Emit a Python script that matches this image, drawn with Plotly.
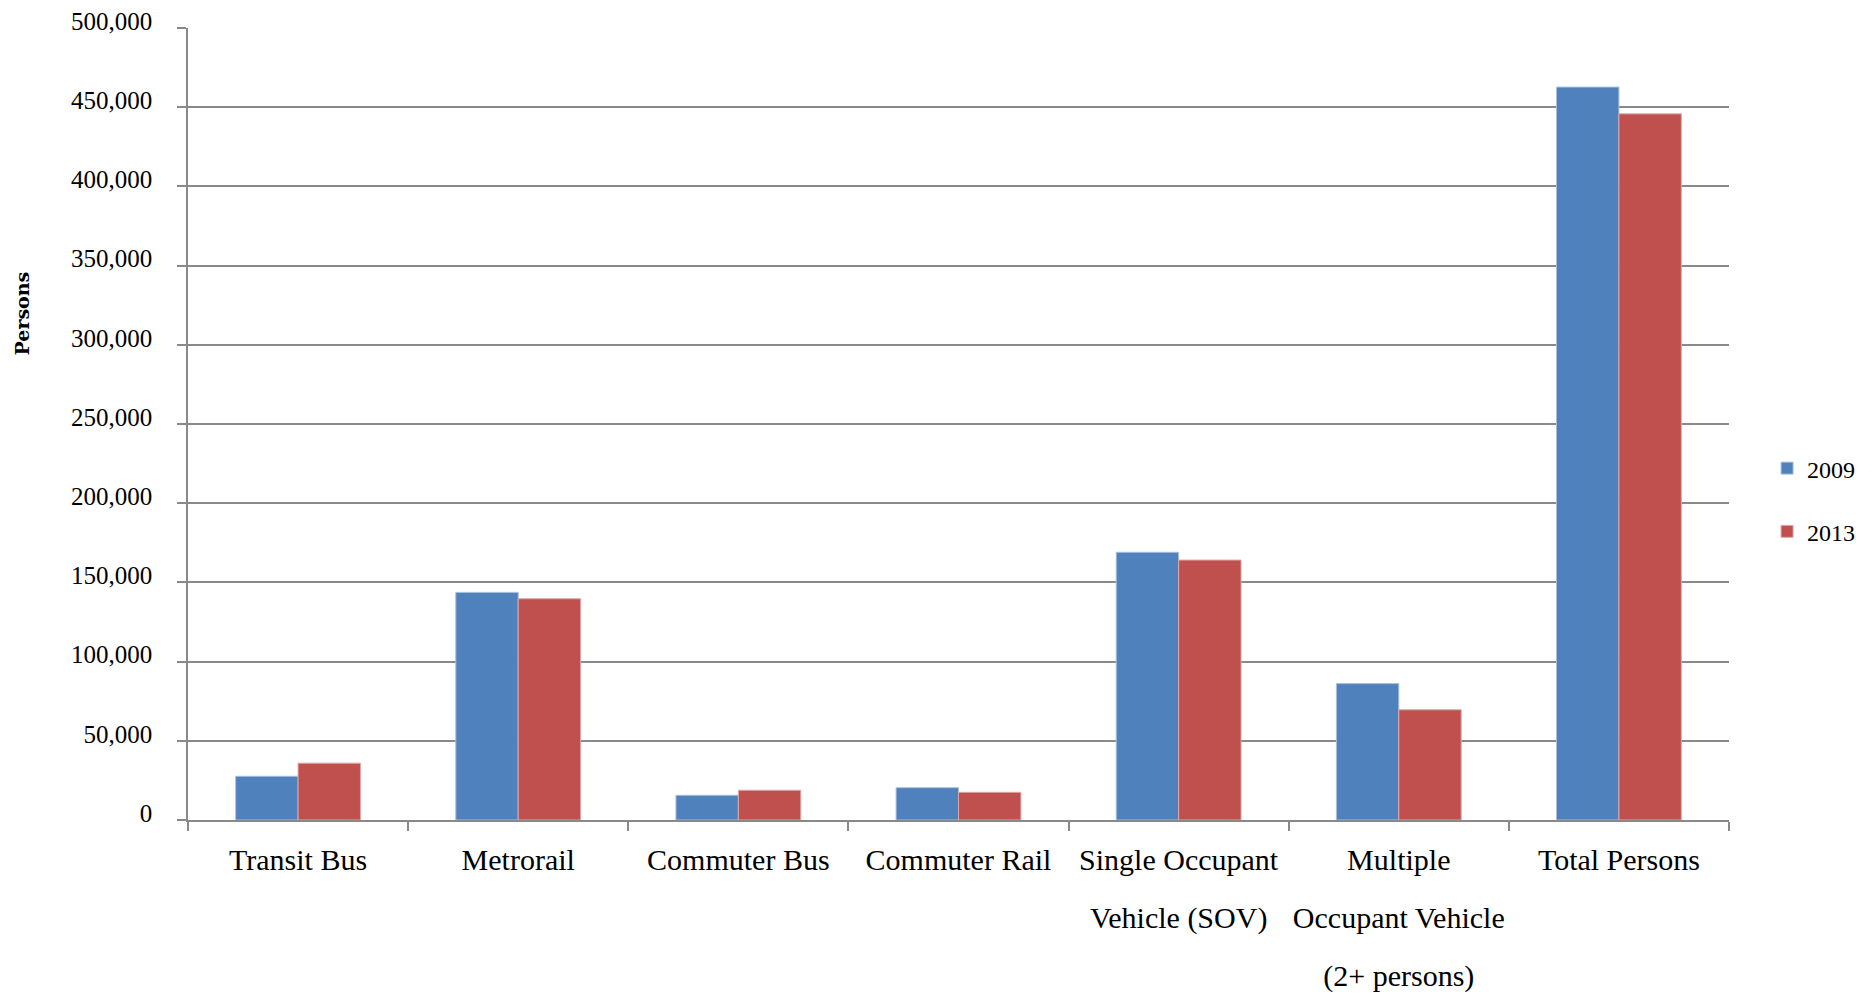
import plotly.graph_objects as go

categories = ["Transit Bus", "Metrorail", "Commuter Bus", "Commuter Rail",
              "Single Occupant Vehicle (SOV)", "Multiple Occupant Vehicle (2+ persons)",
              "Total Persons"]
label_lines = [["Transit Bus"], ["Metrorail"], ["Commuter Bus"], ["Commuter Rail"],
               ["Single Occupant", "Vehicle (SOV)"],
               ["Multiple", "Occupant Vehicle", "(2+ persons)"],
               ["Total Persons"]]

values_2009 = [27600, 143700, 15600, 20400, 169000, 86100, 462700]
values_2013 = [35900, 139700, 18800, 17500, 164100, 69600, 445800]

series_names = ["2009", "2013"]
y_ticks = [0, 50000, 100000, 150000, 200000, 250000, 300000, 350000, 400000, 450000, 500000]

BLUE = "#4F81BD"
RED = "#C0504D"
GRID = "#898989"
SERIF = "Liberation Serif"
LABEL_PX = 30          # glyph size of category labels
LINE_PITCH = 58        # distance between label lines in the reference

tick_text = ["<br>".join("<span style='font-size:%dpx'>%s</span>" % (LABEL_PX, s) for s in lines)
             for lines in label_lines]

fig = go.Figure()
fig.add_trace(go.Bar(x=categories, y=values_2009, name=series_names[0], legendgroup="a",
                     marker=dict(color=BLUE, line=dict(color="#a9bfdc", width=1))))
fig.add_trace(go.Bar(x=categories, y=values_2013, name=series_names[1], legendgroup="b",
                     marker=dict(color=RED, line=dict(color="#dca9a8", width=1))))

fig.update_layout(
    width=1866, height=987,
    paper_bgcolor="white", plot_bgcolor="white",
    margin=dict(l=180, r=145, t=20, b=175),
    barmode="group", bargap=0.433, bargroupgap=0,
    showlegend=True,
    legend=dict(x=1.0247, y=0.404, xanchor="left", yanchor="middle",
                font=dict(family=SERIF, size=24, color="black"),
                tracegroupgap=29, bgcolor="rgba(0,0,0,0)"),
    xaxis=dict(type="category", categoryorder="array", categoryarray=categories,
               tickvals=categories, ticktext=tick_text, showgrid=False,
               tickangle=0, automargin=False,
               tickfont=dict(family=SERIF, size=LINE_PITCH / 1.3, color="black"),
               showline=True, linecolor=GRID, linewidth=1.5,
               ticks="outside", tickson="boundaries", ticklen=9, tickcolor=GRID, tickwidth=1.5,
               ticklabelstandoff=-5),
    yaxis=dict(range=[0, 500000], tickvals=y_ticks, tickformat=",d",
               showgrid=True, gridcolor=GRID, gridwidth=1.5,
               showline=True, linecolor=GRID, linewidth=1.5,
               ticks="outside", ticklen=9, tickcolor=GRID, tickwidth=1.5,
               ticklabelstandoff=20, ticklabelshift=-7, ticklabeloverflow="allow",
               zeroline=False, automargin=False,
               tickfont=dict(family=SERIF, size=25, color="black")),
    annotations=[dict(text="<b>Persons</b>", textangle=-90, xref="paper", yref="paper",
                      x=-0.108, y=0.639, xanchor="center", yanchor="middle", showarrow=False,
                      font=dict(family="DejaVu Serif", size=19, color="black"))],
)

fig.write_html("out.html")
